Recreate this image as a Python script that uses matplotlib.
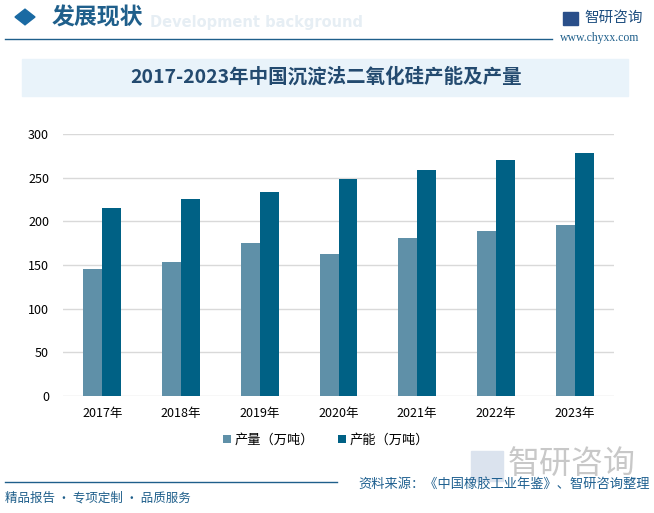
import matplotlib
matplotlib.use("Agg")
import matplotlib.pyplot as plt
import numpy as np
from matplotlib.patches import Rectangle, RegularPolygon

plt.rcParams['font.family'] = ['Noto Sans CJK SC', 'DejaVu Sans']

years = ['2017年', '2018年', '2019年', '2020年', '2021年', '2022年', '2023年']
output = [145, 154, 175, 163, 181, 189, 196]
capacity = [215, 226, 234, 249, 259, 270, 278]
series_names = ['产量（万吨）', '产能（万吨）']
yticks = [0, 50, 100, 150, 200, 250, 300]

W, H = 654, 513
fig = plt.figure(figsize=(W / 100, H / 100), dpi=100)


def fx(px):
    return px / W


def fy(py):
    return 1 - py / H


dark = '#1f5f8b'

# header
fig.text(fx(150), fy(22), 'Development background', fontsize=10.5, fontweight='bold',
         color='#e6eef4', va='center', ha='left', family='DejaVu Sans')
fig.patches.append(RegularPolygon((fx(25), fy(17)), 4, radius=10 / W, orientation=0,
                                  transform=fig.transFigure, color='#1a6aa3'))
fig.text(fx(52), fy(18), '发展现状', fontsize=16.5, fontweight='bold', color=dark,
         va='center', ha='left')
fig.add_artist(plt.Line2D([fx(5), fx(552)], [fy(39), fy(39)], color=dark, lw=1))
fig.patches.append(Rectangle((fx(563), fy(25)), fx(15), 13 / H, transform=fig.transFigure,
                             color='#2a4f8a'))
fig.text(fx(584), fy(18), '智研咨询', fontsize=10.5, color='#1f4f80', va='center', ha='left')
fig.text(fx(600), fy(38), 'www.chyxx.com', fontsize=8.5, color=dark, va='center', ha='center',
         family='Liberation Serif')

# title band
fig.patches.append(Rectangle((fx(22), fy(96)), fx(606), 37 / H, transform=fig.transFigure,
                             color='#e9f3fa', zorder=0))
fig.text(fx(326), fy(77), '2017-2023年中国沉淀法二氧化硅产能及产量', fontsize=14,
         fontweight='bold', color='#234a6f', va='center', ha='center')

# chart
ax = fig.add_axes([fx(63), fy(396), fx(614 - 63), (396 - 134) / H])
x = np.arange(len(years))
w = 0.24
ax.bar(x - w / 2, output, w, color='#5f90a8', label=series_names[0], zorder=3)
ax.bar(x + w / 2, capacity, w, color='#006185', label=series_names[1], zorder=3)
ax.set_xlim(-0.5, len(years) - 0.5)
ax.set_ylim(0, 300)
ax.set_yticks(yticks)
ax.set_xticks(x)
ax.set_xticklabels(years, fontsize=9)
ax.tick_params(axis='y', labelsize=9, length=0, pad=10)
ax.tick_params(axis='x', length=0, pad=8)
ax.grid(axis='y', color='#d9d9d9', lw=1, zorder=0)
for s in ax.spines.values():
    s.set_visible(False)
ax.set_facecolor('none')

leg = ax.legend(loc='center', bbox_to_anchor=((326 - 63) / 551, -(440 - 396) / 262),
                ncol=2, frameon=False, fontsize=9.5, handlelength=0.6, handleheight=0.6,
                columnspacing=1.8, handletextpad=0.3)

# footer
fig.patches.append(Rectangle((fx(471), fy(481)), fx(32), 30 / H, transform=fig.transFigure,
                             color='#dbe3ee', zorder=0))
fig.text(fx(636), fy(464), '智研咨询', fontsize=23, color='#c8c8c8', va='center', ha='right')
fig.add_artist(plt.Line2D([fx(5), fx(337)], [fy(482), fy(482)], color=dark, lw=1))
fig.text(fx(5), fy(498), '精品报告 · 专项定制 · 品质服务', fontsize=9, color=dark,
         va='center', ha='left')
fig.text(fx(650), fy(484), '资料来源：《中国橡胶工业年鉴》、智研咨询整理', fontsize=9.5,
         color='#1f6090', va='center', ha='right')

fig.savefig('out.png', dpi=100)
